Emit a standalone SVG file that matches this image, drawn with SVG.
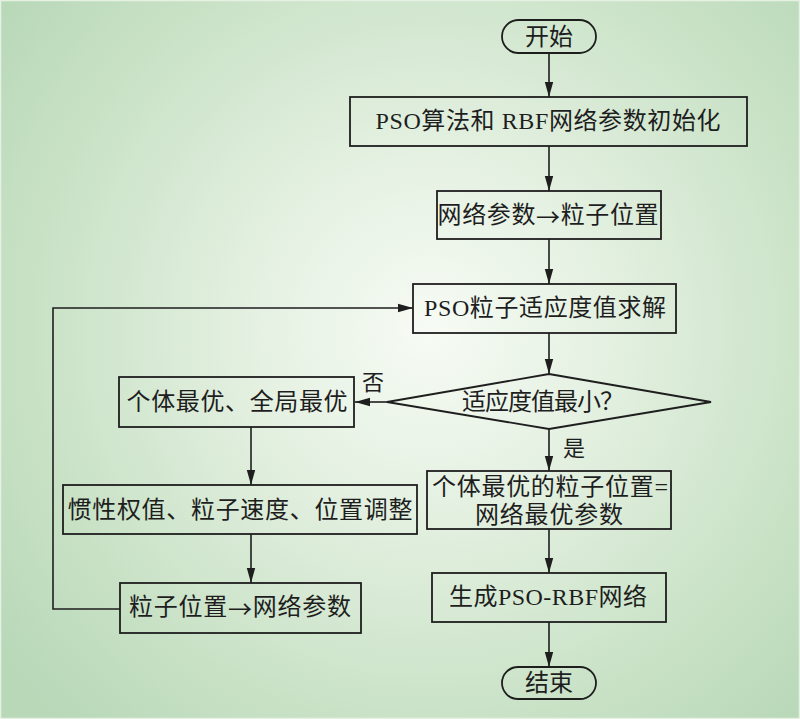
<svg xmlns="http://www.w3.org/2000/svg" width="800" height="719" viewBox="0 0 800 719">
<defs>
<radialGradient id="bg" gradientUnits="userSpaceOnUse" cx="430" cy="330" r="540">
<stop offset="0" stop-color="#f7fbf5"/>
<stop offset="0.35" stop-color="#e3f0e0"/>
<stop offset="0.7" stop-color="#cbe3c8"/>
<stop offset="1" stop-color="#b8d8b8"/>
</radialGradient>
<marker id="ah" markerWidth="16" markerHeight="10" refX="15" refY="5" orient="auto" markerUnits="userSpaceOnUse">
<path d="M0,0.8 L15,5 L0,9.2 Z" fill="#1e1e1e"/>
</marker>
<style>
.box{fill:none;stroke:#1e1e1e;stroke-width:1.8}
.ln{fill:none;stroke:#1e1e1e;stroke-width:1.6}
.t{font-family:"Liberation Serif","Noto Sans CJK SC",serif;font-size:24px;fill:#1e1e1e;text-anchor:middle;dominant-baseline:central}
.s{font-family:"Liberation Serif","Noto Sans CJK SC",serif;font-size:22px;fill:#1e1e1e;text-anchor:middle;dominant-baseline:central}
.cj{font-family:"Noto Sans CJK SC",sans-serif}
</style>
</defs>
<rect x="0" y="0" width="800" height="719" fill="url(#bg)"/>
<rect x="0.5" y="0.5" width="799" height="718" fill="none" stroke="#e6f1e4" stroke-width="1.5"/>

<g id="connectors">
<line class="ln" x1="549" y1="53" x2="549" y2="97" marker-end="url(#ah)"/>
<line class="ln" x1="549" y1="146" x2="549" y2="191" marker-end="url(#ah)"/>
<line class="ln" x1="549" y1="239" x2="549" y2="284" marker-end="url(#ah)"/>
<line class="ln" x1="549" y1="333" x2="549" y2="374" marker-end="url(#ah)"/>
<line class="ln" x1="387" y1="402" x2="355" y2="402" marker-end="url(#ah)"/>
<line class="ln" x1="549" y1="429" x2="549" y2="471" marker-end="url(#ah)"/>
<line class="ln" x1="251" y1="427" x2="251" y2="485" marker-end="url(#ah)"/>
<line class="ln" x1="251" y1="534" x2="251" y2="583" marker-end="url(#ah)"/>
<polyline class="ln" points="120,609 53,609 53,308 413,308" marker-end="url(#ah)"/>
<line class="ln" x1="549" y1="529" x2="549" y2="573" marker-end="url(#ah)"/>
<line class="ln" x1="549" y1="622" x2="549" y2="667" marker-end="url(#ah)"/>
</g>

<g id="start">
<rect class="box" x="502" y="20" width="94" height="33" rx="16.5" ry="16.5"/>
<text class="t" x="549" y="37" textLength="48">开始</text>
</g>
<g id="init">
<rect class="box" x="350" y="97" width="397" height="49"/>
<text class="t" x="548" y="121" textLength="345">PSO算法和 RBF网络参数初始化</text>
</g>
<g id="param2pos">
<rect class="box" x="437" y="191" width="224" height="48"/>
<text class="t" x="548" y="215" textLength="221">网络参数<tspan class="cj">→</tspan>粒子位置</text>
</g>
<g id="fitness">
<rect class="box" x="413" y="284" width="263" height="49"/>
<text class="t" x="545" y="308" textLength="242">PSO粒子适应度值求解</text>
</g>
<g id="decision">
<polygon class="box" points="549,374 711,402 549,429 387,402"/>
<text class="t" x="543" y="402" textLength="162">适应度值最小？</text>
</g>
<g id="best">
<rect class="box" x="119" y="377" width="235" height="50"/>
<text class="t" x="237" y="402" textLength="221">个体最优、全局最优</text>
</g>
<g id="adjust">
<rect class="box" x="63" y="485" width="354" height="49"/>
<text class="t" x="240" y="510" textLength="345">惯性权值、粒子速度、位置调整</text>
</g>
<g id="pos2param">
<rect class="box" x="120" y="583" width="241" height="50"/>
<text class="t" x="240" y="607" textLength="222">粒子位置<tspan class="cj">→</tspan>网络参数</text>
</g>
<g id="optimal">
<rect class="box" x="427" y="471" width="244" height="58"/>
<text class="t" x="550" y="487" textLength="236">个体最优的粒子位置=</text>
<text class="t" x="549" y="515" textLength="148">网络最优参数</text>
</g>
<g id="generate">
<rect class="box" x="432" y="573" width="234" height="49"/>
<text class="t" x="548" y="597" textLength="198">生成PSO-RBF网络</text>
</g>
<g id="end">
<rect class="box" x="502" y="667" width="94" height="32" rx="16" ry="16"/>
<text class="t" x="549" y="683" textLength="48">结束</text>
</g>
<g id="labels">
<text class="s" x="373" y="382">否</text>
<text class="s" x="574" y="448">是</text>
</g>
</svg>
